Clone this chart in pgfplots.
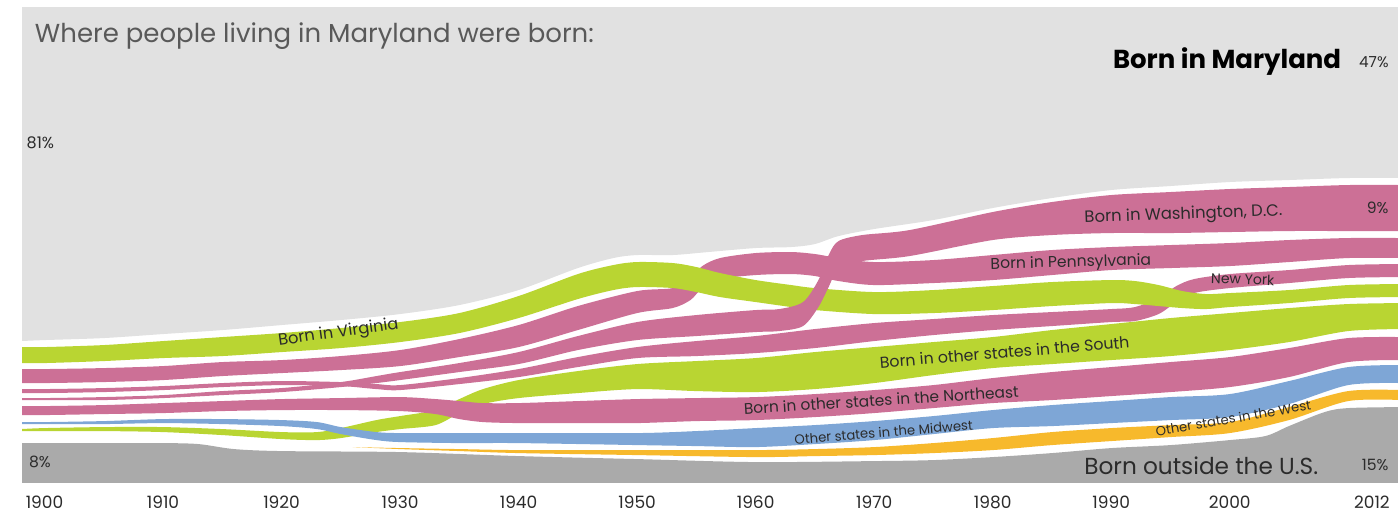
\documentclass[border=0pt]{standalone}
\usepackage{pgfplots}
\pgfplotsset{compat=1.18}
\usepackage{pgfplotstable}
\usepgfplotslibrary{fillbetween}
\usepackage{fontspec}
\setmainfont{Poppins}

\definecolor{mdgray}{HTML}{E1E1E1}
\definecolor{fgray}{HTML}{AAAAAA}
\definecolor{vgreen}{HTML}{B9D532}
\definecolor{vpink}{HTML}{CC7096}
\definecolor{vblue}{HTML}{7EA6D6}
\definecolor{vyellow}{HTML}{F7B92C}
\definecolor{txt}{HTML}{2B2B2B}

% band edges, in pixel rows of the reference (0 = top)
\pgfplotstableread{
yr top bot
1898 0 341
1900 0 340
1905 0 338
1910 0 334
1915 0 330
1920 0 325
1925 0 320
1930 0 314
1935 0 305
1940 0 290
1945 0 268
1948 0 258
1950 0 255
1953 0 255
1956 0 252
1960 0 248
1963 0 247
1965 0 244
1967 0 236
1970 0 229
1975 0 220
1980 0 208
1985 0 198
1990 0 190
1995 0 186
2000 0 182
2005 0 180
2010 0 178
2014.5 0 178
}\tMD

\pgfplotstableread{
yr top bot
1898 347 363
1900 347 363
1905 345 361
1910 341 358
1915 337 356
1920 333 352
1925 328 348
1930 322 342
1935 313 333
1940 296 318
1945 274 299
1948 265 290
1950 262 287
1953 263 288
1955 267 292
1957 273 297
1960 280 302
1963 285 307
1965 288 310
1970 292 314
1975 290 313
1980 286 310
1985 282 306
1990 280 303
1992 281 304
1994 285 306
1996 291 308
1998 294 309
2000 293 307
2005 290 303
2010 285 298
2014.5 284 297
}\tVA

\pgfplotstableread{
yr top bot
1898 369 383
1900 369 383
1905 368 382
1910 366 380
1915 362 376
1920 360 373
1925 356 370
1930 350 366
1935 339 357
1940 325 347
1945 306 330
1950 291 313
1953 288 308
1954.5 278 300
1955.5 266 288
1957 258 279
1960 253 275
1963 252 274
1965 254 276
1967 258 281
1970 262 285
1975 260 283
1980 255 280
1985 250 275
1990 247 270
1995 245 268
2000 243 266
2005 240 262
2010 238 258
2014.5 238 258
}\tPA

\pgfplotstableread{
yr top bot
1898 398 400
1900 398 400
1905 397 400
1910 395 398
1915 391 395
1920 388 392
1925 382 387
1928 376 383
1930 372 380
1935 363 372
1940 352 364
1945 336 350
1950 322 340
1955 315 336
1960 310 332
1962 309 331
1964 302 326
1965.3 280 307
1966.2 254 286
1967 241 268
1969 235 261
1973 230 256
1980 212 240
1985 202 235
1990 195 233
1995 192 233
2000 189 232
2005 187 231
2010 185 231
2014.5 185 231
}\tDC

\pgfplotstableread{
yr top bot
1898 389 393
1900 389 393
1905 388 392
1910 386 390
1915 383 387
1920 381 385
1925 382 386
1928 384 389
1930 385 390
1935 378 384
1940 369 377
1945 357 367
1950 347 358
1955 341 356
1960 336 353
1965 329 348
1970 323 341
1975 319 335
1980 315 330
1985 312 326
1990 309 322
1992 307 321
1994 298 314
1995.5 286 302
1997 279 293
2000 274 288
2005 270 283
2010 265 278
2014.5 264 277
}\tNY

\pgfplotstableread{
yr top bot
1898 429 431
1900 428 431
1905 427 431
1910 427 432
1915 429 435
1920 432 439
1923 432 440
1925 428 438
1928 420 432
1930 416 429
1933 410 425
1935 399 413
1937 389 404
1940 380 398
1945 371 393
1950 364 389
1955 361 391
1960 358 392
1965 352 389
1970 347 383
1975 342 375
1980 337 368
1985 330 364
1990 324 360
1995 318 356
2000 313 350
2005 308 342
2010 304 331
2014.5 303 329
}\tSO

\pgfplotstableread{
yr top bot
1898 406 415
1900 406 415
1905 405 414
1910 403 413
1915 401 411
1920 399 410
1925 398 410
1930 397 411
1933 399 414
1935 401 419
1937 403 422
1940 403 423
1945 401 423
1950 399 423
1955 398 421
1960 397 420
1965 394 417
1970 390 413
1975 385 408
1980 378 403
1985 372 400
1990 367 396
1995 362 392
2000 357 387
2005 348 377
2010 338 362
2014.5 337 360
}\tNE

\pgfplotstableread{
yr top bot
1898 422 424
1900 422 424
1905 421 424
1910 419 423
1915 419 424
1920 420 426
1923 422 429
1925 427 434
1928 432 440
1930 433 442
1935 433 443
1940 433 443
1950 433 445
1955 431 446
1960 428 447
1965 425 444
1970 421 440
1975 416 434
1980 410 428
1985 405 426
1990 401 423
1995 397 420
2000 394 417
2005 381 404
2010 367 385
2014.5 365 383
}\tMW

\pgfplotstableread{
yr top bot
1926 447 447
1930 448 449
1935 449 451
1940 450 453
1950 450 455
1960 450 457
1965 449 456
1970 447 455
1975 443 453
1980 438 450
1985 432 445
1990 428 441
1995 425 437
2000 422 433
2005 407 420
2010 391 401
2014.5 390 400
}\tWE

\pgfplotstableread{
yr top bot
1898 443 500
1900 443 500
1905 443 500
1910 443 500
1913 444 500
1916 449 500
1920 451 500
1930 452 500
1940 456 500
1950 459 500
1960 462 500
1970 461 500
1975 460 500
1980 457 500
1985 453 500
1990 448 500
1995 445 500
2000 440 500
2003 436 500
2005 426 500
2008 412 500
2010 408 500
2014.5 407 500
}\tFB

\newcommand{\band}[3]{%
  \addplot[draw=none, smooth, name path=#1t] table[x=yr, y=top] {#2};
  \addplot[draw=none, smooth, name path=#1b] table[x=yr, y=bot] {#2};
  \addplot[fill=#3, draw=none] fill between[of=#1t and #1b];
}

\begin{document}
\begin{tikzpicture}
\begin{axis}[
  name=ax,
  scale only axis,
  width=688pt, height=237pt,
  xmin=1898.1, xmax=2014.2,
  ymin=8, ymax=482, y dir=reverse,
  axis line style={draw=none},
  tick style={draw=none},
  ytick=\empty,
  xtick={1900,1910,1920,1930,1940,1950,1960,1970,1980,1990,2000,2012},
  /pgf/number format/1000 sep={},
  /pgf/number format/assume math mode=true,
  xticklabel style={font=\fontsize{8.5}{10}\selectfont, text=txt, yshift=-3.5pt},
  clip=true,
]
\band{md}{\tMD}{mdgray}
\band{fb}{\tFB}{fgray}
\band{we}{\tWE}{vyellow}
\band{so}{\tSO}{vgreen}
\band{mw}{\tMW}{vblue}
\band{ne}{\tNE}{vpink}
\band{ny}{\tNY}{vpink}
\band{pa}{\tPA}{vpink}
\band{va}{\tVA}{vgreen}
\band{dc}{\tDC}{vpink}

\node[anchor=west, text=black!65, font=\fontsize{13}{15}\selectfont] at (axis cs:1898.6,36) {Where people living in Maryland were born:};
\node[anchor=east, font=\bfseries\fontsize{13}{15}\selectfont] at (axis cs:2010.0,62) {Born in Maryland};
\node[anchor=east, text=txt, font=\fontsize{7.6}{9}\selectfont] at (axis cs:2014.0,62) {47\%};
\node[anchor=west, text=txt, font=\fontsize{8}{9}\selectfont] at (axis cs:1897.9,143) {81\%};
\node[anchor=west, text=txt, font=\fontsize{7.8}{9}\selectfont] at (axis cs:1898.1,462) {8\%};
\node[anchor=east, text=txt, font=\fontsize{7.8}{9}\selectfont] at (axis cs:2014.0,465) {15\%};
\node[anchor=east, text=txt, font=\fontsize{7.8}{9}\selectfont] at (axis cs:2014.0,208) {9\%};
\node[text=txt, font=\fontsize{11.6}{13}\selectfont] at (axis cs:1997.6,466) {Born outside the U.S.};

\node[text=txt, rotate=8, font=\fontsize{8.1}{9}\selectfont] at (axis cs:1924.8,333) {Born in Virginia};
\node[text=txt, rotate=2, font=\fontsize{8.2}{9}\selectfont] at (axis cs:1996.1,215) {Born in Washington, D.C.};
\node[text=txt, rotate=1.5, font=\fontsize{7.8}{9}\selectfont] at (axis cs:1986.6,263) {Born in Pennsylvania};
\node[text=txt, rotate=-2, font=\fontsize{7}{8}\selectfont] at (axis cs:2001.1,279) {New York};
\node[text=txt, rotate=4.7, font=\fontsize{7.9}{9}\selectfont] at (axis cs:1981.0,352) {Born in other states in the South};
\node[text=txt, rotate=3.6, inner sep=1pt, font=\fontsize{7.7}{9}\selectfont] at (axis cs:1970.6,400) {Born in other states in the Northeast};
\node[text=txt, rotate=4.7, inner sep=1pt, font=\fontsize{6.6}{8}\selectfont] at (axis cs:1970.8,432) {Other states in the Midwest};
\node[text=txt, rotate=9.8, font=\fontsize{6.6}{8}\selectfont] at (axis cs:2000.3,418) {Other states in the West};
\end{axis}
\pgfresetboundingbox
\path[use as bounding box] ([xshift=-11pt,yshift=-15pt]ax.south west) rectangle ([yshift=4pt]ax.north east);
\end{tikzpicture}
\end{document}
